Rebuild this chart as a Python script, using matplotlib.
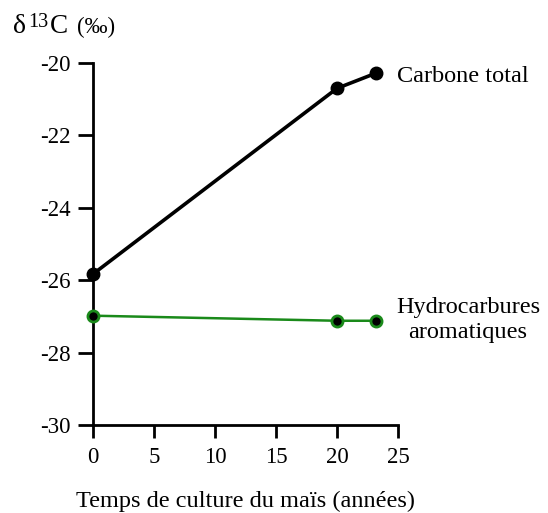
import matplotlib
matplotlib.use("Agg")
import matplotlib.pyplot as plt

# data
years = [0, 20, 23.2]
carbone_total = [-25.83, -20.7, -20.28]
hydrocarbures = [-26.98, -27.12, -27.12]

xticks = [0, 5, 10, 15, 20, 25]
yticks = [-30, -28, -26, -24, -22, -20]

plt.rcParams['font.family'] = ['Liberation Serif', 'DejaVu Serif']

fig = plt.figure(figsize=(5.48, 5.13), dpi=100)
ax = fig.add_axes([0.1697, 0.1715, 0.5566, 0.7057])

ax.plot(years, carbone_total, color='black', lw=2.6, marker='o', ms=9,
        mfc='black', mec='black', solid_capstyle='round', zorder=3)
ax.plot(years, hydrocarbures, color='#1a8a1a', lw=1.8, marker='o', ms=8,
        mfc='black', mec='#1a8a1a', mew=2, zorder=3)

ax.set_xlim(0, 25)
ax.set_ylim(-30, -20)
ax.set_xticks(xticks)
ax.set_yticks(yticks)
ax.set_yticklabels([str(v) for v in yticks])
ax.spines['top'].set_visible(False)
ax.spines['right'].set_visible(False)
for s in ['left', 'bottom']:
    ax.spines[s].set_linewidth(2)
ax.tick_params(axis='y', direction='out', length=11, width=2, labelsize=16.5, pad=5)
ax.tick_params(axis='x', direction='out', length=9, width=2, labelsize=16.5, pad=7)
for sp in ax.spines.values():
    sp.set_clip_on(False)
for ln in ax.lines:
    ln.set_clip_on(False)

ax.set_xlabel("Temps de culture du maïs (années)", fontsize=17.5, labelpad=16)

# y axis title: delta 13 C (permil), built from pieces
base = 1 - 33 / 513
fig.text(13 / 548, base, "δ", fontsize=20, va='baseline', ha='left')
fig.text(28 / 548, 1 - 27 / 513, "13", fontsize=14.5, va='baseline', ha='left')
fig.text(50 / 548, base, "C", fontsize=19.5, va='baseline', ha='left')
fig.text(77 / 548, base, "(‰)", fontsize=16.5, va='baseline', ha='left')

fig.text(397 / 548, 1 - 76 / 513, "Carbone total", fontsize=17.5, va='center', ha='left')
fig.text(468 / 548, 1 - 320 / 513, "Hydrocarbures\naromatiques", fontsize=17.5,
         va='center', ha='center', linespacing=1.3)

fig.savefig("out.png", dpi=100)
